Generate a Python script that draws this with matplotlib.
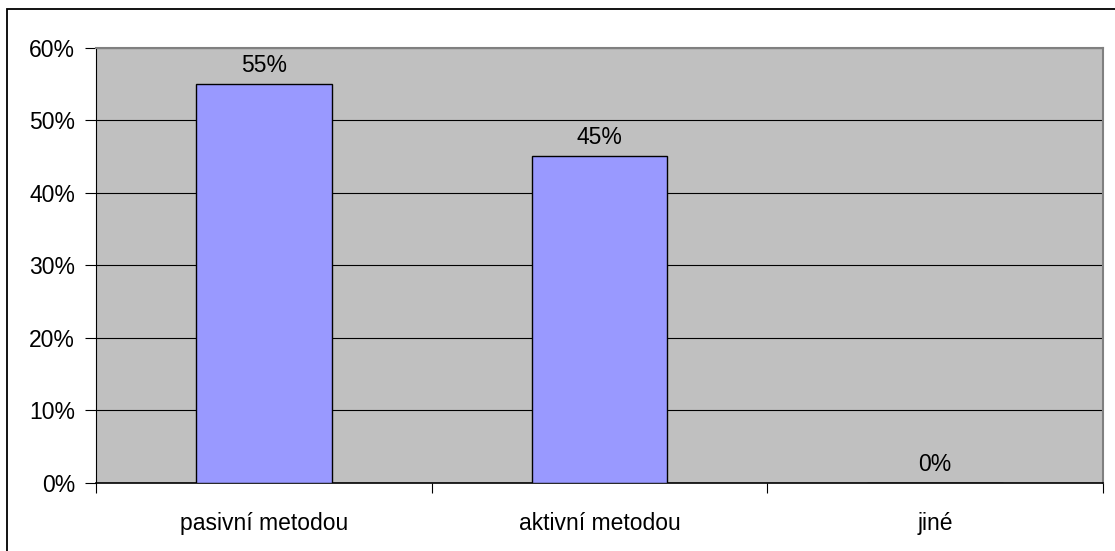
import matplotlib
matplotlib.use("Agg")
import matplotlib.pyplot as plt
from matplotlib.patches import Rectangle
from matplotlib.ticker import MultipleLocator, FuncFormatter

categories = ["pasivní metodou", "aktivní metodou", "jiné"]
values = [55, 45, 0]
labels = ["55%", "45%", "0%"]

W, H = 1115, 551
fig = plt.figure(figsize=(W / 100, H / 100), dpi=100)
plt.rcParams["font.family"] = ["Liberation Sans", "DejaVu Sans"]
FS = 16.5

# outer frame of the chart (runs off the right and bottom edges)
fig.patches.append(Rectangle((7 / W, -10 / H), 1130 / W, (H + 10 - 9) / H,
                             transform=fig.transFigure, fill=False,
                             edgecolor="black", linewidth=1.3))

left, right, top, bottom = 96, 1103, 47.5, 483
ax = fig.add_axes([left / W, 1 - bottom / H, (right - left) / W, (bottom - top) / H])
ax.set_facecolor("#C0C0C0")

x = range(len(categories))
ax.bar(x, values, width=0.405, color="#9999FF", edgecolor="black",
       linewidth=1.0, zorder=3)
for xi, v, lab in zip(x, values, labels):
    ax.text(xi, v + 1.0, lab, ha="center", va="bottom", fontsize=FS, zorder=4)

ax.set_xlim(-0.5, len(categories) - 0.5)
ax.set_ylim(0, 60)
ax.yaxis.set_major_locator(MultipleLocator(10))
ax.yaxis.set_major_formatter(FuncFormatter(lambda v, p: f"{v:.0f}%"))
ax.yaxis.grid(True, color="black", linewidth=0.8, zorder=1)
ax.set_axisbelow(True)

ax.set_xticks([-0.5, 0.5, 1.5, 2.5])
ax.set_xticklabels([])
ax.set_xticks(list(x), minor=True)
ax.set_xticklabels(categories, minor=True)
ax.tick_params(axis="x", which="major", direction="out", length=7, width=0.8, color="black")
ax.tick_params(axis="x", which="minor", length=0, pad=21, labelsize=FS)
ax.tick_params(axis="y", direction="out", length=8, width=0.8, color="black",
               labelsize=FS, pad=7)

for s in ["top", "right"]:
    ax.spines[s].set_color("#808080")
    ax.spines[s].set_linewidth(1.5)
ax.spines["left"].set_color("black")
ax.spines["left"].set_linewidth(0.8)
ax.spines["bottom"].set_color("black")
ax.spines["bottom"].set_linewidth(1.2)

fig.savefig("out.png", dpi=100)
